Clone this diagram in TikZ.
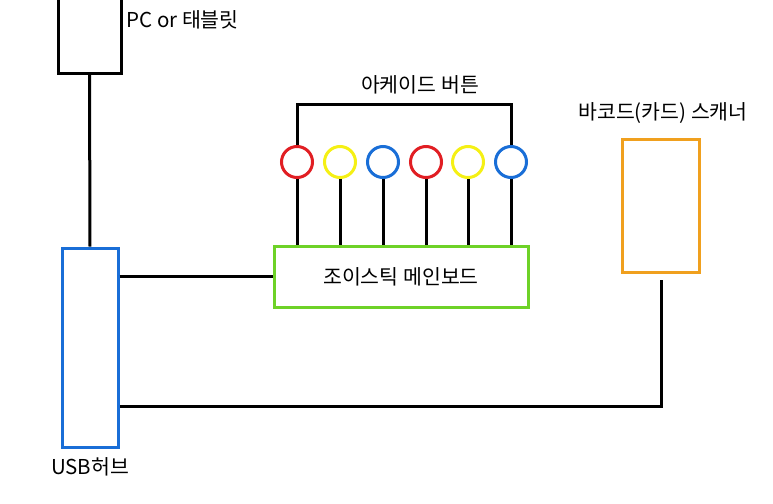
\documentclass[tikz,border=0pt]{standalone}
\usepackage{fontspec}
\setmainfont{Noto Sans CJK KR}
\begin{document}
\begin{tikzpicture}[x=1pt,y=-1pt,
  every path/.style={line width=3pt},
  bx/.style={draw,line width=3pt,inner sep=0pt},
  lbl/.style={font=\fontsize{20.5}{24}\selectfont,inner sep=0pt},
  btn/.style={circle,draw,line width=3pt,minimum size=31pt,inner sep=0pt}]
\useasboundingbox (0,0) rectangle (773,503);
\definecolor{cred}{RGB}{225,30,35}
\definecolor{cyel}{RGB}{245,240,20}
\definecolor{cblu}{RGB}{25,110,215}
\definecolor{cgrn}{RGB}{110,210,40}
\definecolor{cora}{RGB}{240,160,30}
\node[bx,minimum width=63pt,minimum height=74pt] (pc) at (89.5,36) {};
\node[lbl,anchor=west] (pcl) at (125,20) {PC or 태블릿};
\node[bx,draw=cblu,minimum width=56pt,minimum height=199pt] (hub) at (90,347.5) {};
\node[lbl] (hubl) at (90,467) {USB허브};
\node[bx,draw=cgrn,minimum width=254pt,minimum height=61pt,lbl] (mb) at (401,276.5) {조이스틱 메인보드};
\node[bx,draw=cora,minimum width=77pt,minimum height=133pt] (sc) at (660.5,205.5) {};
\node[lbl] (scl) at (663,113) {바코드(카드) 스캐너};
\node[lbl] (bl) at (420,85) {아케이드 버튼};
\foreach \i/\x/\c in {1/297/cred,2/340/cyel,3/383/cblu,4/426/cred,5/468/cyel,6/511/cblu}{
  \node[btn,draw=\c] (b\i) at (\x,162) {};
  \draw (b\i.south) -- (b\i.south |- mb.north);
}
\draw (b1.north) -- ++(0,-41) -| (b6.north);
\draw (pc.south) -- (hub.north);
\coordinate (h1) at (hub.east |- mb.west);
\draw (h1) -- (mb.west);
\coordinate (s1) at (661,280);
\coordinate (h2) at (hub.east |- 0,406);
\draw (s1) |- (h2);
\end{tikzpicture}
\end{document}
